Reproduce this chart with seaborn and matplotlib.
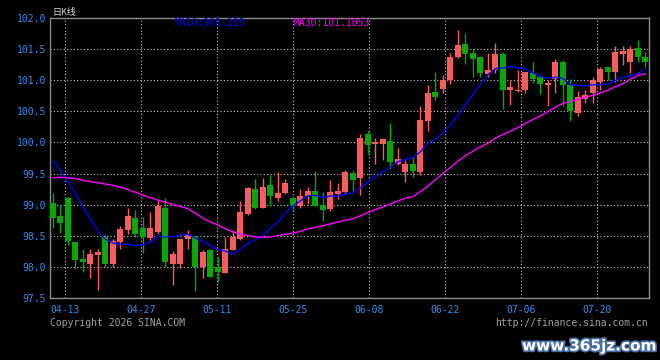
import numpy as np
import pandas as pd
import matplotlib
matplotlib.use("Agg")
import matplotlib.pyplot as plt
import seaborn as sns
from matplotlib import patheffects as pe

# ---------------- data ----------------
opens = [99.02, 98.81, 99.10, 98.40, 98.12, 98.05, 98.19, 98.47, 98.04, 98.39,
         98.59, 98.79, 98.63, 98.46, 98.56, 98.95, 98.05, 98.04, 98.44, 98.50,
         97.99, 98.27, 98.00, 97.89, 98.27, 98.45, 98.85, 99.25, 98.94, 99.31,
         99.11, 99.18, 99.10, 98.98, 99.13, 99.22, 99.00, 98.93, 99.17, 99.20,
         99.51, 99.42, 100.13, 99.98, 99.98, 100.03, 99.66, 99.52, 99.65, 99.52,
         100.35, 100.82, 100.86, 101.00, 101.37, 101.59, 101.44, 101.38, 101.10, 101.16,
         101.42, 100.84, 100.83, 100.84, 101.12, 101.06, 100.92, 101.03, 101.30, 100.93,
         100.48, 100.70, 100.79, 100.98, 101.21, 101.13, 101.43, 101.30, 101.52, 101.37]
highs = [99.18, 99.00, 99.12, 98.40, 98.29, 98.29, 98.29, 98.51, 98.45, 98.65,
         98.95, 98.91, 98.80, 98.88, 99.07, 99.10, 98.25, 98.45, 98.59, 98.50,
         98.27, 98.29, 98.16, 98.48, 98.59, 99.05, 99.28, 99.41, 99.43, 99.48,
         99.53, 99.41, 99.10, 99.25, 99.29, 99.54, 99.20, 99.39, 99.34, 99.55,
         99.56, 100.13, 100.19, 100.07, 100.05, 100.32, 99.91, 99.71, 99.79, 100.58,
         100.93, 101.14, 101.09, 101.44, 101.81, 101.76, 101.50, 101.40, 101.44, 101.60,
         101.45, 101.01, 101.16, 101.14, 101.29, 101.06, 101.01, 101.34, 101.33, 101.03,
         100.83, 100.85, 101.06, 101.22, 101.22, 101.55, 101.55, 101.55, 101.65, 101.45]
lows = [98.62, 98.55, 98.35, 97.96, 97.92, 97.81, 97.63, 97.99, 98.00, 98.29,
        98.53, 98.47, 98.22, 98.43, 98.53, 98.00, 97.71, 97.98, 98.29, 97.61,
        97.81, 97.83, 97.76, 97.89, 98.27, 98.43, 98.84, 98.93, 98.94, 98.97,
        99.05, 99.17, 98.90, 98.95, 99.01, 98.98, 98.74, 98.90, 99.09, 99.17,
        99.22, 99.15, 99.82, 99.66, 99.71, 99.58, 99.64, 99.36, 99.44, 99.47,
        100.19, 100.69, 100.79, 100.94, 101.36, 101.26, 101.06, 101.06, 101.05, 101.12,
        100.54, 100.60, 100.82, 100.79, 100.95, 100.78, 100.59, 100.79, 100.59, 100.34,
        100.42, 100.64, 100.64, 100.85, 101.01, 100.98, 101.24, 101.12, 101.30, 101.22]
closes = [98.79, 98.71, 98.41, 98.11, 98.07, 98.21, 98.23, 98.05, 98.42, 98.60,
          98.81, 98.52, 98.48, 98.63, 98.97, 98.07, 98.21, 98.44, 98.51, 97.99,
          98.23, 97.83, 97.91, 98.29, 98.47, 98.88, 99.26, 98.94, 99.29, 99.13,
          99.18, 99.34, 98.98, 99.13, 99.22, 98.98, 98.92, 99.20, 99.22, 99.53,
          99.40, 100.08, 99.96, 100.00, 100.05, 99.68, 99.74, 99.65, 99.54, 100.37,
          100.79, 100.74, 101.00, 101.37, 101.57, 101.42, 101.34, 101.12, 101.17, 101.43,
          100.85, 100.89, 100.84, 101.13, 101.02, 100.94, 100.95, 101.29, 100.93, 100.50,
          100.74, 100.77, 101.01, 101.18, 101.13, 101.45, 101.47, 101.51, 101.38, 101.29]
ma10 = [99.70, 99.55, 99.36, 99.18, 98.96, 98.76, 98.57, 98.44, 98.38, 98.36,
        98.36, 98.34, 98.35, 98.40, 98.49, 98.48, 98.48, 98.51, 98.52, 98.46,
        98.40, 98.34, 98.28, 98.25, 98.20, 98.28, 98.38, 98.43, 98.51, 98.62,
        98.72, 98.87, 98.98, 99.06, 99.14, 99.15, 99.11, 99.14, 99.13, 99.17,
        99.19, 99.27, 99.36, 99.45, 99.53, 99.60, 99.69, 99.73, 99.76, 99.85,
        99.99, 100.05, 100.16, 100.29, 100.44, 100.62, 100.78, 100.93, 101.09, 101.19,
        101.20, 101.22, 101.20, 101.18, 101.12, 101.07, 101.03, 101.05, 101.03, 100.93,
        100.92, 100.91, 100.93, 100.93, 100.94, 101.00, 101.05, 101.07, 101.11, 101.19]
ma30 = [99.43, 99.44, 99.43, 99.42, 99.39, 99.37, 99.35, 99.33, 99.31, 99.28,
        99.24, 99.20, 99.15, 99.11, 99.07, 99.04, 99.00, 98.97, 98.93, 98.86,
        98.78, 98.72, 98.67, 98.61, 98.56, 98.52, 98.50, 98.48, 98.47, 98.48,
        98.50, 98.52, 98.54, 98.57, 98.61, 98.63, 98.66, 98.69, 98.72, 98.75,
        98.77, 98.82, 98.87, 98.92, 98.96, 99.01, 99.06, 99.10, 99.13, 99.21,
        99.30, 99.40, 99.50, 99.60, 99.70, 99.79, 99.86, 99.93, 99.99, 100.07,
        100.13, 100.18, 100.24, 100.31, 100.37, 100.43, 100.50, 100.57, 100.63, 100.66,
        100.70, 100.73, 100.76, 100.80, 100.84, 100.90, 100.95, 101.02, 101.08, 101.11]
date_labels = ["04-13", "04-27", "05-11", "05-25", "06-08", "06-22", "07-06", "07-20"]
y_ticks = [97.5, 98.0, 98.5, 99.0, 99.5, 100.0, 100.5, 101.0, 101.5, 102.0]

# ---------------- style ----------------
BG = "black"
RED = "#ff5a5a"
GREEN = "#00aa00"
LABEL_BLUE = "#2b8ff0"
FRAME = "#8c8c8c"
GRID = "#c8c8c8"

sns.set_style("dark", {"axes.facecolor": BG, "figure.facecolor": BG,
                       "axes.edgecolor": FRAME, "grid.color": GRID})
plt.rcParams["font.family"] = ["DejaVu Sans Mono", "Noto Sans CJK SC"]

W, H = 660, 360
fig = plt.figure(figsize=(W / 100, H / 100), dpi=100, facecolor=BG)
left, right, top, bottom = 50, 649, 18.3, 297.7
ax = fig.add_axes([left / W, 1 - bottom / H, (right - left) / W, (bottom - top) / H])
ax.set_facecolor(BG)

n = len(closes)
df = pd.DataFrame({"i": np.arange(n), "open": opens, "high": highs,
                   "low": lows, "close": closes, "ma10": ma10, "ma30": ma30})
up = df["close"] >= df["open"]
colors = np.where(up, RED, GREEN)

# candles
ax.vlines(df["i"], df["low"], df["high"], colors=colors, linewidth=1.0, zorder=2)
body_lo = np.minimum(df["open"], df["close"])
body_h = np.maximum((df["close"] - df["open"]).abs(), 0.022)
ax.bar(df["i"], body_h, bottom=body_lo, width=0.8, color=colors,
       linewidth=0, zorder=3)

# moving averages
sns.lineplot(data=df, x="i", y="ma10", ax=ax, color="#0000ff", linewidth=1.0,
             legend=False, zorder=4)
sns.lineplot(data=df, x="i", y="ma30", ax=ax, color="#ff00ff", linewidth=1.0,
             legend=False, zorder=4)

# axes
ax.set_xlim(-0.4, 79.47)
ax.set_ylim(97.5, 102.0)
tick_pos = np.linspace(1.64, 72.5, len(date_labels))
ax.set_xticks(tick_pos)
ax.set_xticklabels(date_labels)
ax.set_yticks(y_ticks)
ax.set_yticklabels([f"{v:.1f}" for v in y_ticks])
ax.set_xlabel("")
ax.set_ylabel("")
ax.tick_params(axis="both", length=0, labelcolor=LABEL_BLUE, labelsize=7)
ax.tick_params(axis="y", pad=3)
ax.tick_params(axis="x", pad=5)
ax.grid(True, which="major", color=GRID, linestyle=(0, (1, 2)), linewidth=0.8)
ax.set_axisbelow(True)
for s in ax.spines.values():
    s.set_color(FRAME)
    s.set_linewidth(1.0)
    s.set_visible(True)

# texts
fig.text(52 / W, 1 - 12 / H, "日K线", color="#dddddd", fontsize=6.5,
         va="center", ha="left", family=["Noto Sans CJK SC", "DejaVu Sans"])
fig.text(175 / W, 1 - 23.5 / H, "MA10:101.188", color="#0000ee", fontsize=7,
         va="center", ha="left")
fig.text(294 / W, 1 - 23.5 / H, "MA30:101.1053", color="#ff00ff", fontsize=7,
         va="center", ha="left")
fig.text(50 / W, 1 - 323.5 / H, "Copyright 2026 SINA.COM", color="#a0a0a0",
         fontsize=7, va="center", ha="left")
fig.text(648 / W, 1 - 323.5 / H, "http://finance.sina.com.cn", color="#a0a0a0",
         fontsize=7, va="center", ha="right")
fig.text(656 / W, 1 - 346 / H, "www.365jz.com", color="white", fontsize=11,
         fontweight="bold", va="center", ha="right", family="DejaVu Sans",
         path_effects=[pe.withStroke(linewidth=2.5, foreground="#4a6fa5")])

fig.savefig("out.png", dpi=100, facecolor=BG)
